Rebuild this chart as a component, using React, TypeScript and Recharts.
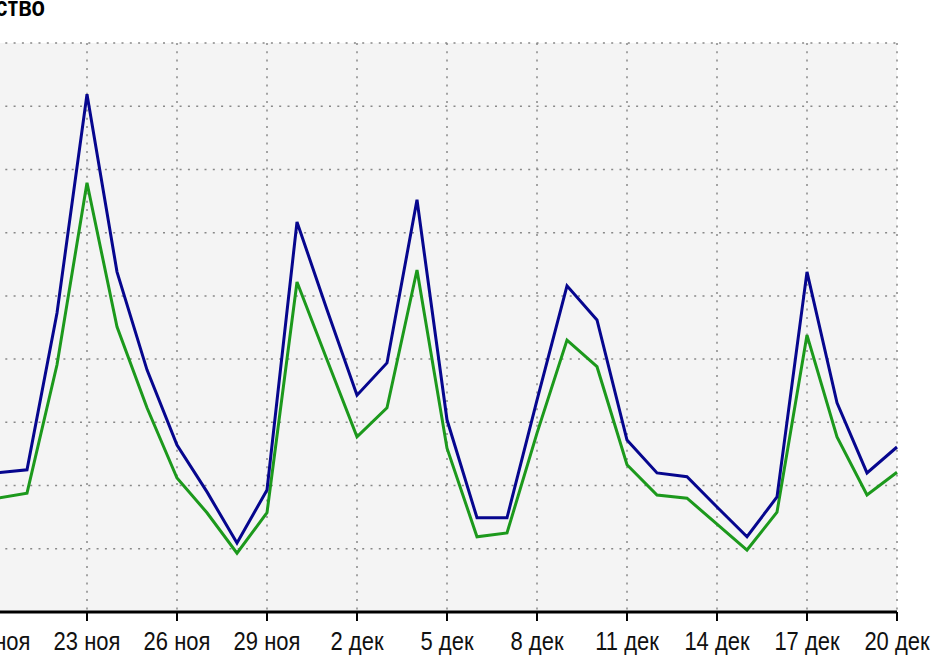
import React from "react";
import { LineChart, Line, XAxis, YAxis, CartesianGrid } from "recharts";

const days = [
  "20 ноя", "21 ноя", "22 ноя", "23 ноя", "24 ноя", "25 ноя", "26 ноя", "27 ноя", "28 ноя", "29 ноя", "30 ноя",
  "1 дек", "2 дек", "3 дек", "4 дек", "5 дек", "6 дек", "7 дек", "8 дек", "9 дек", "10 дек",
  "11 дек", "12 дек", "13 дек", "14 дек", "15 дек", "16 дек", "17 дек", "18 дек", "19 дек", "20 дек",
];

const blueSeries = [
  220, 225, 473, 819, 538, 383, 264, 190, 109, 193, 617,
  478, 343, 394, 652, 304, 149, 149, 335, 516, 462,
  272, 220, 214, 166, 119, 182, 538, 331, 220, 261,
];

const greenSeries = [
  180, 188, 391, 679, 451, 323, 212, 157, 93, 157, 522,
  399, 277, 323, 541, 259, 119, 125, 283, 430, 388,
  233, 185, 180, 139, 98, 158, 438, 277, 185, 221,
];

const yTicks = [0, 100, 200, 300, 400, 500, 600, 700, 800, 900];

const titleText = "Количество";

const data = days.map((day, i) => ({ day, blue: blueSeries[i], green: greenSeries[i] }));

const FONT = "'Liberation Sans', Arial, sans-serif";

const Tick = (props: any) => {
  const { x, y, payload } = props;
  return (
    <g transform={`translate(${x},${y}) scale(1,1.18)`}>
      <text x={0} y={23} textAnchor="middle" fontFamily={FONT} fontSize={22} fill="#111">
        {payload.value}
      </text>
    </g>
  );
};

export default function App() {
  return (
    <div
      style={{
        position: "absolute",
        left: 0,
        top: 0,
        width: 941,
        height: 657,
        overflow: "hidden",
        background: "#fff",
      }}
    >
      <svg width={941} height={30} style={{ position: "absolute", left: 0, top: 0 }}>
        <g transform="translate(45,15.5) scale(1,1.22)">
          <text x={0} y={0} textAnchor="end" fontFamily={FONT} fontWeight="bold" fontSize={22} fill="#000">
            {titleText}
          </text>
        </g>
      </svg>
      <div style={{ position: "absolute", left: -40, top: 0 }}>
        <LineChart
          width={981}
          height={657}
          data={data}
          margin={{ top: 43, right: 44, bottom: 15, left: 37 }}
        >
          <CartesianGrid
            fill="#f4f4f4"
            stroke="#888"
            strokeWidth={1.5}
            strokeDasharray="2 6.3"
          />
          <YAxis hide domain={[0, 900]} ticks={yTicks} />
          <XAxis
            dataKey="day"
            interval={2}
            height={30}
            tickSize={9}
            axisLine={{ stroke: "#000", strokeWidth: 3 }}
            tickLine={{ stroke: "#000", strokeWidth: 2 }}
            tick={<Tick />}
          />
          <Line
            type="linear"
            dataKey="green"
            stroke="#1c991c"
            strokeWidth={3}
            dot={false}
            isAnimationActive={false}
          />
          <Line
            type="linear"
            dataKey="blue"
            stroke="#06068e"
            strokeWidth={3}
            dot={false}
            isAnimationActive={false}
          />
        </LineChart>
      </div>
    </div>
  );
}
